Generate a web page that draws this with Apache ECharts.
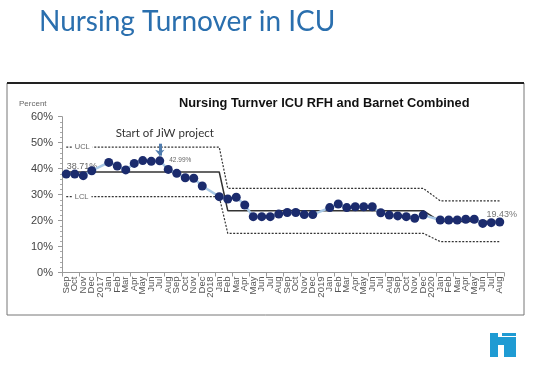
<!DOCTYPE html>
<html>
<head>
<meta charset="utf-8">
<script src="https://cdn.jsdelivr.net/npm/echarts@6/dist/echarts.min.js"></script>
<style>
html,body{margin:0;padding:0;background:#fff;}
#chart{width:543px;height:371px;}
</style>
</head>
<body>
<div id="chart"></div>
<script>
// Category slots (year labels occupy their own slot, as in the reference)
var categories = ['Sep','Oct','Nov','Dec','2017','Jan','Feb','Mar','Apr','May','Jun','Jul','Aug','Sep','Oct','Nov','Dec',
  '2018','Jan','Feb','Mar','Apr','May','Jun','Jul','Aug','Sep','Oct','Nov','Dec',
  '2019','Jan','Feb','Mar','Apr','May','Jun','Jul','Aug','Sep','Oct','Nov','Dec',
  '2020','Jan','Feb','Mar','Apr','May','Jun','Jul','Aug'];

var turnover = [37.9,37.9,37.3,39.2,null,42.4,41.0,39.5,42.0,43.1,42.8,42.99,39.7,38.2,36.5,36.3,33.3,
  null,29.2,28.3,29.0,26.0,21.5,21.5,21.5,22.5,23.1,23.1,22.3,22.3,
  null,25.0,26.4,25.0,25.3,25.3,25.3,23.0,22.1,21.8,21.5,20.9,22.1,
  null,20.2,20.2,20.2,20.5,20.5,18.9,19.2,19.43];

var centreLine = [38.71,38.71,38.71,38.71,38.71,38.71,38.71,38.71,38.71,38.71,38.71,38.71,38.71,38.71,38.71,38.71,38.71,
  38.71,38.71,23.8,23.8,23.8,23.8,23.8,23.8,23.8,23.8,23.8,23.8,23.8,
  23.8,23.8,23.8,23.8,23.8,23.8,23.8,23.8,23.8,23.8,23.8,23.8,23.8,
  null,19.6,19.6,19.6,19.6,19.6,19.6,19.6,19.6];

var upperLimit = [48.3,48.3,48.3,48.3,48.3,48.3,48.3,48.3,48.3,48.3,48.3,48.3,48.3,48.3,48.3,48.3,48.3,
  48.3,48.3,32.4,32.4,32.4,32.4,32.4,32.4,32.4,32.4,32.4,32.4,32.4,
  32.4,32.4,32.4,32.4,32.4,32.4,32.4,32.4,32.4,32.4,32.4,32.4,32.4,
  null,27.6,27.6,27.6,27.6,27.6,27.6,27.6,27.6];

var lowerLimit = [29.2,29.2,29.2,29.2,29.2,29.2,29.2,29.2,29.2,29.2,29.2,29.2,29.2,29.2,29.2,29.2,29.2,
  29.2,29.2,15.1,15.1,15.1,15.1,15.1,15.1,15.1,15.1,15.1,15.1,15.1,
  15.1,15.1,15.1,15.1,15.1,15.1,15.1,15.1,15.1,15.1,15.1,15.1,15.1,
  null,11.9,11.9,11.9,11.9,11.9,11.9,11.9,11.9];

var yTicks = [0,10,20,30,40,50,60];
var projectStartIndex = 11;

var chart = echarts.init(document.getElementById('chart'), null, {renderer:'canvas'});

function limitLabel(txt, idx, val){
  return {
    symbol:'circle', symbolSize:1, itemStyle:{color:'rgba(0,0,0,0)'},
    silent:true,
    data:[{coord:[idx,val], value:txt,
      label:{show:true, formatter:txt, position:'right', distance:6,
        color:'#666', fontSize:7.5, fontFamily:'Liberation Sans, Arial',
        backgroundColor:'#fff', padding:[0,3,0,2]}}]
  };
}

var option = {
  animation:false,
  backgroundColor:'#fff',
  title:[
    {text:'Nursing Turnover in ICU', left:39, top:8, padding:0,
     textStyle:{fontFamily:'Lato', fontSize:28, fontWeight:'normal', color:'#2a6fae'}},
    {text:'Nursing Turnver ICU RFH and Barnet Combined', left:179, top:97, padding:0,
     textStyle:{fontFamily:'Liberation Sans, Arial', fontSize:12.8, fontWeight:'bold', color:'#111'}},
    {text:'Percent', left:19, top:100, padding:0,
     textStyle:{fontFamily:'Liberation Sans, Arial', fontSize:8, fontWeight:'normal', color:'#666'}}
  ],
  graphic:[
    {type:'rect', shape:{x:7, y:83, width:517, height:232}, style:{fill:'none', stroke:'#777', lineWidth:1}, z:-1},
    {type:'line', shape:{x1:7, y1:83, x2:524, y2:83}, style:{stroke:'#222', lineWidth:2}, z:-1},
    {type:'group', children:[
      {type:'rect', shape:{x:490, y:333, width:8, height:24}, style:{fill:'#1f9bd3'}},
      {type:'rect', shape:{x:490, y:337, width:26, height:8}, style:{fill:'#1f9bd3'}},
      {type:'rect', shape:{x:504, y:337, width:12, height:20}, style:{fill:'#1f9bd3'}},
      {type:'rect', shape:{x:502, y:333, width:14, height:3}, style:{fill:'#1f9bd3'}}
    ]}
  ],
  grid:{left:62, right:39, top:116.7, bottom:98.5, containLabel:false},
  xAxis:{
    type:'category', data:categories, boundaryGap:true,
    axisLine:{lineStyle:{color:'#999', width:1}},
    axisTick:{show:true, interval:1, length:4, lineStyle:{color:'#999'}},
    axisLabel:{interval:0, rotate:90, fontSize:9.5, color:'#555', margin:4, fontFamily:'Liberation Sans, Arial'},
    splitLine:{show:false}
  },
  yAxis:{
    type:'value', min:yTicks[0], max:yTicks[yTicks.length-1], interval:10,
    axisLine:{show:true, lineStyle:{color:'#999'}},
    axisTick:{show:true, length:4, lineStyle:{color:'#999'}},
    minorTick:{show:true, splitNumber:5, length:2, lineStyle:{color:'#aaa'}},
    axisLabel:{formatter:'{value}%', fontSize:11, color:'#444', margin:9, fontFamily:'Liberation Sans, Arial'},
    splitLine:{show:false}
  },
  series:[
    {name:'UCL', type:'line', data:upperLimit, connectNulls:true, symbol:'none',
     lineStyle:{color:'#333', width:1.2, type:[2,1.5]}, z:2,
     markPoint:limitLabel('UCL', 0, upperLimit[0])},
    {name:'LCL', type:'line', data:lowerLimit, connectNulls:true, symbol:'none',
     lineStyle:{color:'#333', width:1.2, type:[2,1.5]}, z:2,
     markPoint:limitLabel('LCL', 0, lowerLimit[0])},
    {name:'CL', type:'line', data:centreLine, connectNulls:true, symbol:'none',
     lineStyle:{color:'#333', width:1.5}, z:2,
     markPoint:{symbol:'circle', symbolSize:1, itemStyle:{color:'rgba(0,0,0,0)'}, silent:true,
       data:[{coord:[0, centreLine[0]], value:'38.71%',
         label:{show:true, formatter:'38.71%', position:'right', distance:0, offset:[0,-5],
           color:'#666', fontSize:9, fontFamily:'Liberation Sans, Arial'}}]}},
    {name:'Turnover', type:'line', data:turnover, connectNulls:true,
     symbol:'circle', symbolSize:9, showSymbol:true,
     lineStyle:{color:'#a9c9e6', width:2.5},
     itemStyle:{color:'#1b2b6d', borderWidth:0},
     z:5,
     markPoint:{symbol:'circle', symbolSize:1, itemStyle:{color:'rgba(0,0,0,0)'}, silent:true,
       data:[
         {coord:[projectStartIndex, turnover[projectStartIndex]], value:'42.99%',
          label:{show:true, formatter:'42.99%', position:'right', distance:9, offset:[0,-1],
            color:'#666', fontSize:6.5, fontFamily:'Liberation Sans, Arial'}},
         {coord:[51, turnover[51]], value:'19.43%',
          label:{show:true, formatter:'19.43%', position:'top', distance:3, offset:[2,0],
            color:'#777', fontSize:9, fontFamily:'Liberation Sans, Arial'}}
       ]},
     markLine:{silent:true, symbol:['none','arrow'], symbolSize:[7,6],
       lineStyle:{color:'#4f7cae', width:3, type:'solid'},
       label:{show:true, position:'start', formatter:'Start of JiW project', distance:4, offset:[5,0],
         color:'#333', fontSize:11.5, fontFamily:'Lato'},
       data:[[{coord:[projectStartIndex, 49.6]},{coord:[projectStartIndex, 45.0]}]]}
    }
  ]
};
chart.setOption(option);
</script>
</body>
</html>
